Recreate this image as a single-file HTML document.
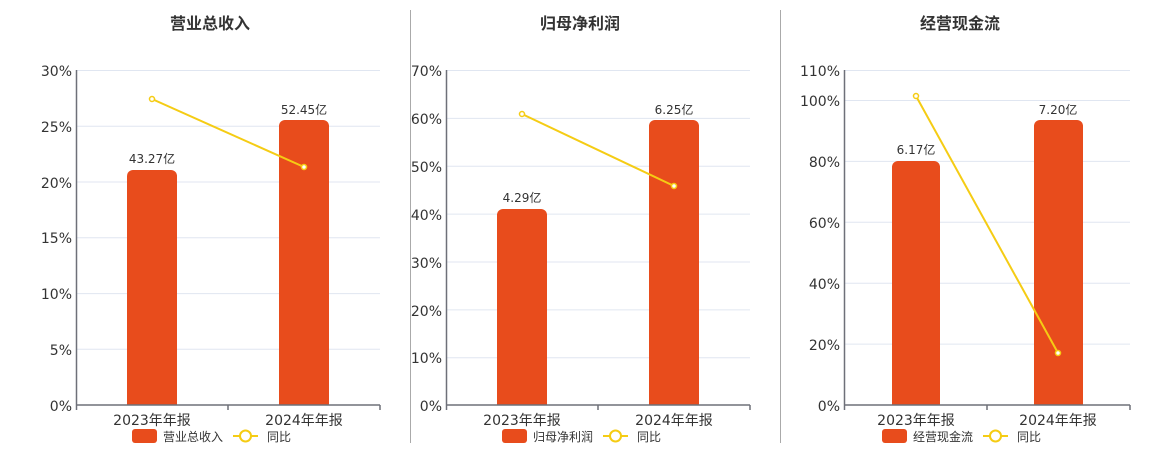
<!DOCTYPE html>
<html><head><meta charset="utf-8"><style>
body{margin:0;background:#fff;}
svg{display:block;font-family:"DejaVu Sans","Noto Sans CJK SC",sans-serif;}
.t{font-size:16px;font-weight:bold;fill:#333;text-anchor:middle;font-family:"Liberation Sans","Noto Sans CJK SC",sans-serif}
.y{font-size:14px;fill:#333;text-anchor:end}
.x{font-size:14px;fill:#333;text-anchor:middle}
.v{font-size:12px;fill:#333;text-anchor:middle}
.l{font-size:12px;fill:#333}
.g{stroke:#e0e6f1;stroke-width:1}
.a{stroke:#6e7079;stroke-width:1.5}
.bar{fill:#e84c1c}
.ln{stroke:#f5cc14;stroke-width:2;fill:none}
.dot{fill:#fff;stroke:#f5cc14;stroke-width:1.5}
</style></head><body>
<svg width="1160" height="450" viewBox="0 0 1160 450">
<line x1="410.5" y1="10" x2="410.5" y2="443" stroke="#aaa"/>
<line x1="780.5" y1="10" x2="780.5" y2="443" stroke="#aaa"/>

<!-- chart 1 -->
<text class="t" x="210" y="29">营业总收入</text>
<g class="g">
<line x1="76" y1="70.5" x2="380" y2="70.5"/><line x1="76" y1="126.3" x2="380" y2="126.3"/>
<line x1="76" y1="182" x2="380" y2="182"/><line x1="76" y1="237.8" x2="380" y2="237.8"/>
<line x1="76" y1="293.6" x2="380" y2="293.6"/><line x1="76" y1="349.3" x2="380" y2="349.3"/>
</g>
<g class="y"><text x="72" y="76">30%</text><text x="72" y="132">25%</text><text x="72" y="188">20%</text><text x="72" y="243">15%</text><text x="72" y="299">10%</text><text x="72" y="355">5%</text><text x="72" y="411">0%</text></g>
<line class="a" x1="76.5" y1="70" x2="76.5" y2="405"/>
<path class="bar" d="M127,405V176a6,6 0 0 1 6,-6h38a6,6 0 0 1 6,6V405z"/>
<path class="bar" d="M279,405V126a6,6 0 0 1 6,-6h38a6,6 0 0 1 6,6V405z"/>
<line class="a" x1="76" y1="405" x2="380" y2="405"/>
<line class="a" x1="228" y1="405" x2="228" y2="410"/><line class="a" x1="380" y1="405" x2="380" y2="410"/><line class="a" x1="76.5" y1="405" x2="76.5" y2="410"/>
<text class="v" x="152" y="163">43.27亿</text><text class="v" x="304" y="114">52.45亿</text>
<polyline class="ln" points="152,99 304,167"/><circle class="dot" cx="152" cy="99" r="2.5"/><circle class="dot" cx="304" cy="167" r="2.5"/>
<text class="x" x="152" y="425">2023年年报</text><text class="x" x="304" y="425">2024年年报</text>
<rect class="bar" x="132" y="429" width="25" height="14" rx="3"/><text class="l" x="163" y="441">营业总收入</text>
<line class="ln" x1="233" y1="436" x2="258" y2="436"/><circle cx="245.5" cy="436" r="5.5" fill="#fff" stroke="#f5cc14" stroke-width="2"/><text class="l" x="267" y="441">同比</text>

<!-- chart 2 -->
<text class="t" x="580" y="29">归母净利润</text>
<g class="g">
<line x1="446" y1="70.5" x2="750" y2="70.5"/><line x1="446" y1="118.4" x2="750" y2="118.4"/>
<line x1="446" y1="166.3" x2="750" y2="166.3"/><line x1="446" y1="214.1" x2="750" y2="214.1"/>
<line x1="446" y1="262" x2="750" y2="262"/><line x1="446" y1="309.9" x2="750" y2="309.9"/>
<line x1="446" y1="357.7" x2="750" y2="357.7"/>
</g>
<g class="y"><text x="442" y="76">70%</text><text x="442" y="124">60%</text><text x="442" y="172">50%</text><text x="442" y="220">40%</text><text x="442" y="268">30%</text><text x="442" y="316">20%</text><text x="442" y="363">10%</text><text x="442" y="411">0%</text></g>
<line class="a" x1="446.5" y1="70" x2="446.5" y2="405"/>
<path class="bar" d="M497,405V215a6,6 0 0 1 6,-6h38a6,6 0 0 1 6,6V405z"/>
<path class="bar" d="M649,405V126a6,6 0 0 1 6,-6h38a6,6 0 0 1 6,6V405z"/>
<line class="a" x1="446" y1="405" x2="750" y2="405"/>
<line class="a" x1="598" y1="405" x2="598" y2="410"/><line class="a" x1="750" y1="405" x2="750" y2="410"/><line class="a" x1="446.5" y1="405" x2="446.5" y2="410"/>
<text class="v" x="522" y="202">4.29亿</text><text class="v" x="674" y="114">6.25亿</text>
<polyline class="ln" points="522,114 674,186"/><circle class="dot" cx="522" cy="114" r="2.5"/><circle class="dot" cx="674" cy="186" r="2.5"/>
<text class="x" x="522" y="425">2023年年报</text><text class="x" x="674" y="425">2024年年报</text>
<rect class="bar" x="502" y="429" width="25" height="14" rx="3"/><text class="l" x="533" y="441">归母净利润</text>
<line class="ln" x1="603" y1="436" x2="628" y2="436"/><circle cx="615.5" cy="436" r="5.5" fill="#fff" stroke="#f5cc14" stroke-width="2"/><text class="l" x="637" y="441">同比</text>

<!-- chart 3 -->
<text class="t" x="960" y="29">经营现金流</text>
<g class="g">
<line x1="844" y1="70.5" x2="1130" y2="70.5"/><line x1="844" y1="100.5" x2="1130" y2="100.5"/>
<line x1="844" y1="161.4" x2="1130" y2="161.4"/><line x1="844" y1="222.3" x2="1130" y2="222.3"/>
<line x1="844" y1="283.2" x2="1130" y2="283.2"/><line x1="844" y1="344.1" x2="1130" y2="344.1"/>
</g>
<g class="y"><text x="840" y="76">110%</text><text x="840" y="106">100%</text><text x="840" y="167">80%</text><text x="840" y="228">60%</text><text x="840" y="289">40%</text><text x="840" y="350">20%</text><text x="840" y="411">0%</text></g>
<line class="a" x1="844.5" y1="70" x2="844.5" y2="405"/>
<path class="bar" d="M892,405V167a6,6 0 0 1 6,-6h36a6,6 0 0 1 6,6V405z"/>
<path class="bar" d="M1034,405V126a6,6 0 0 1 6,-6h37a6,6 0 0 1 6,6V405z"/>
<line class="a" x1="844" y1="405" x2="1130" y2="405"/>
<line class="a" x1="987" y1="405" x2="987" y2="410"/><line class="a" x1="1130" y1="405" x2="1130" y2="410"/><line class="a" x1="844.5" y1="405" x2="844.5" y2="410"/>
<text class="v" x="916" y="154">6.17亿</text><text class="v" x="1058" y="114">7.20亿</text>
<polyline class="ln" points="916,96 1058,353"/><circle class="dot" cx="916" cy="96" r="2.5"/><circle class="dot" cx="1058" cy="353" r="2.5"/>
<text class="x" x="916" y="425">2023年年报</text><text class="x" x="1058" y="425">2024年年报</text>
<rect class="bar" x="882" y="429" width="25" height="14" rx="3"/><text class="l" x="913" y="441">经营现金流</text>
<line class="ln" x1="983" y1="436" x2="1008" y2="436"/><circle cx="995.5" cy="436" r="5.5" fill="#fff" stroke="#f5cc14" stroke-width="2"/><text class="l" x="1017" y="441">同比</text>
</svg>
</body></html>
